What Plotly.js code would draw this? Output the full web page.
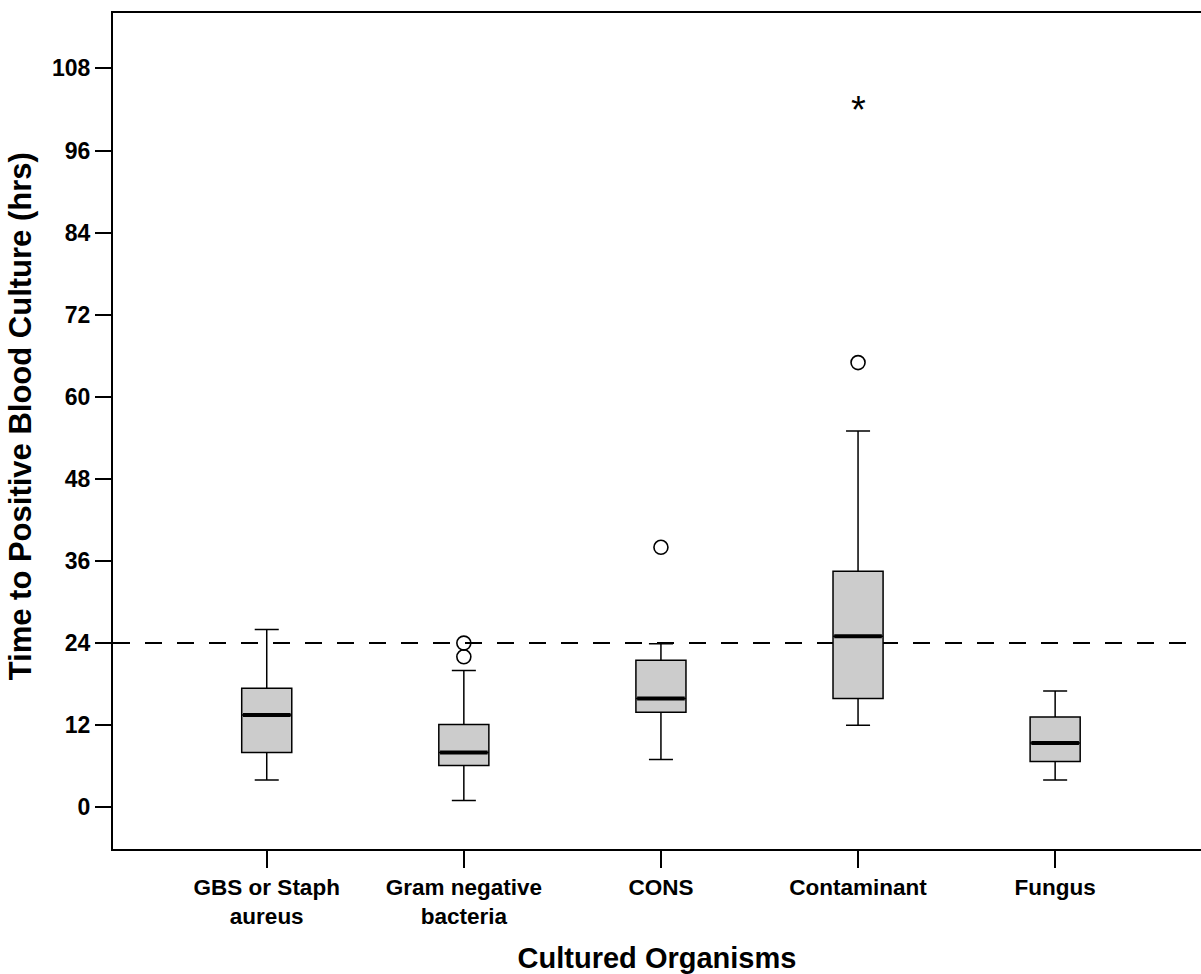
<!DOCTYPE html>
<html>
<head>
<meta charset="utf-8">
<script src="https://cdn.plot.ly/plotly-3.0.1.min.js"></script>
<style>
  html, body { margin: 0; padding: 0; background: #fff; }
  #chart { width: 1201px; height: 974px; }
</style>
</head>
<body>
<div id="chart"></div>
<script>
// ---- Data ----
const categories = ["GBS or Staph<br>aureus", "Gram negative<br>bacteria", "CONS", "Contaminant", "Fungus"];
const lowerWhisker = [4, 1, 7, 12, 4];
const q1Values = [8, 6.1, 13.9, 15.9, 6.7];
const medianValues = [13.5, 8, 15.9, 25, 9.4];
const q3Values = [17.4, 12.1, 21.5, 34.5, 13.2];
const upperWhisker = [26, 20, 23.9, 55, 17];

// Outliers (circles) and extreme values (stars)
const outlierCategories = ["Gram negative<br>bacteria", "Gram negative<br>bacteria", "CONS", "Contaminant"];
const outlierValues = [24, 22, 38, 65];
const extremeCategories = ["Contaminant"];
const extremeValues = [103];

const referenceHours = 24;
const yTicks = [0, 12, 24, 36, 48, 60, 72, 84, 96, 108];

const xTitle = "Cultured Organisms";
const yTitle = "Time to Positive Blood Culture (hrs)";

const fontFamily = "Liberation Sans, Arial, Helvetica, sans-serif";

const traces = [
  {
    type: "box",
    x: categories,
    q1: q1Values,
    median: medianValues,
    q3: q3Values,
    lowerfence: lowerWhisker,
    upperfence: upperWhisker,
    width: 0.254,
    whiskerwidth: 0.48,
    fillcolor: "#cccccc",
    line: { color: "#000000", width: 1.5 },
    boxpoints: false,
    hoverinfo: "skip",
    showlegend: false
  },
  {
    type: "scatter",
    mode: "markers",
    x: categories,
    y: medianValues,
    marker: { symbol: "line-ew", size: 34, color: "#000", line: { color: "#000", width: 4 } },
    hoverinfo: "skip",
    showlegend: false
  },
  {
    type: "scatter",
    mode: "markers",
    x: outlierCategories,
    y: outlierValues,
    marker: { symbol: "circle-open", size: 14, color: "#000", line: { color: "#000", width: 1.6 } },
    hoverinfo: "skip",
    showlegend: false
  }
];

// Extreme values drawn as an asterisk character, like the original
const extremeAnnotations = extremeCategories.map((c, i) => ({
  x: c,
  y: extremeValues[i],
  xref: "x",
  yref: "y",
  text: "*",
  showarrow: false,
  xanchor: "center",
  yanchor: "middle",
  yshift: -7,
  font: { family: fontFamily, size: 38, color: "#000" }
}));

const layout = {
  width: 1201,
  height: 974,
  margin: { l: 113, r: 0, t: 13, b: 125 },
  paper_bgcolor: "#ffffff",
  plot_bgcolor: "#ffffff",
  showlegend: false,
  font: { family: fontFamily, color: "#000" },
  xaxis: {
    type: "category",
    categoryorder: "array",
    categoryarray: categories,
    range: [-0.78, 4.74],
    showline: true,
    linecolor: "#000",
    linewidth: 2,
    mirror: true,
    ticks: "outside",
    ticklen: 17,
    tickwidth: 2,
    tickcolor: "#000",
    showgrid: false,
    zeroline: false,
    tickfont: { family: fontFamily, size: 22.5, weight: 700, color: "#000" },
    title: { text: xTitle, font: { family: fontFamily, size: 29, weight: 700, color: "#000" }, standoff: 24 }
  },
  yaxis: {
    range: [-6.1, 116.1],
    tickvals: yTicks,
    ticktext: yTicks.map(String),
    showline: true,
    linecolor: "#000",
    linewidth: 2,
    mirror: false,
    ticks: "outside",
    ticklen: 16,
    tickwidth: 2,
    tickcolor: "#000",
    showgrid: false,
    zeroline: false,
    tickfont: { family: fontFamily, size: 23, weight: 700, color: "#000" }
  },
  annotations: [
    {
      text: yTitle,
      xref: "paper",
      yref: "paper",
      x: -0.0855,
      y: 0.5175,
      xanchor: "center",
      yanchor: "middle",
      textangle: -90,
      showarrow: false,
      font: { family: fontFamily, size: 31, weight: 700, color: "#000" }
    }
  ].concat(extremeAnnotations),
  shapes: [
    {
      type: "line",
      xref: "paper",
      yref: "y",
      x0: 0,
      x1: 1,
      y0: referenceHours,
      y1: referenceHours,
      line: { color: "#000", width: 2, dash: "17px,15px" },
      layer: "below"
    }
  ]
};

Plotly.newPlot("chart", traces, layout, { staticPlot: true, displayModeBar: false });
</script>
</body>
</html>
